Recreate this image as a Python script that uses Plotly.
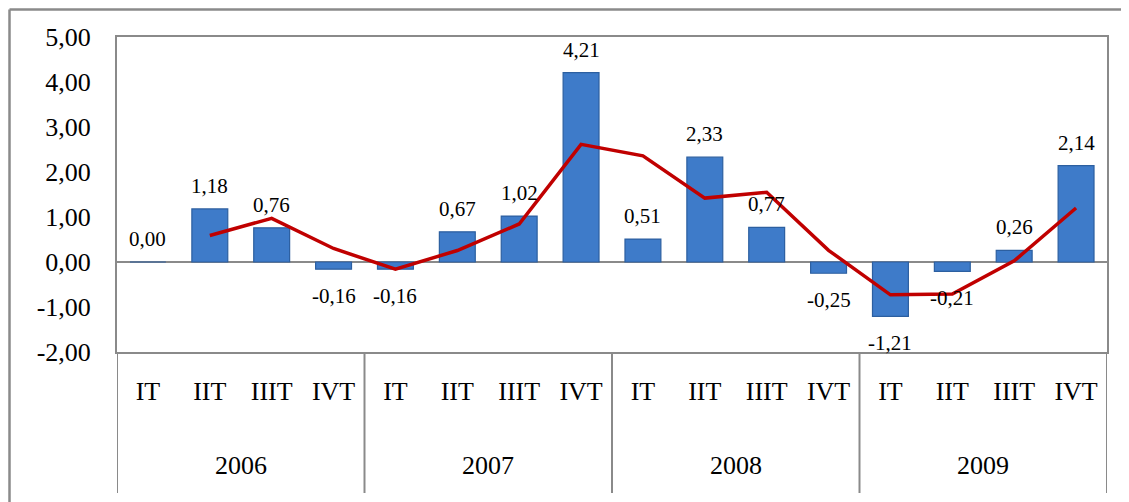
import plotly.graph_objects as go

years = ["2006", "2007", "2008", "2009"]
quarters = ["IT", "IIT", "IIIT", "IVT"]
bar_values = [0.00, 1.18, 0.76, -0.16,
              -0.16, 0.67, 1.02, 4.21,
              0.51, 2.33, 0.77, -0.25,
              -1.21, -0.21, 0.26, 2.14]
trend_values = [None, 0.59, 0.97, 0.30,
                -0.16, 0.255, 0.845, 2.615,
                2.36, 1.42, 1.55, 0.26,
                -0.73, -0.71, 0.025, 1.20]
y_ticks = [-2, -1, 0, 1, 2, 3, 4, 5]


def fmt(v):
    return f"{v:.2f}".replace(".", ",")


n = len(bar_values)
xs = list(range(n))
qlabels = [quarters[i % 4] for i in xs]

# page has an 8px body margin; compensate so the picture lands where the reference is
OFF = 8
W, H = 1129 - OFF, 502 - OFF
ML, MT = 117 - OFF, 37 - OFF
PW, PH = 990, 315
MR = W - ML - PW
MB = H - MT - PH
SERIF = "Liberation Serif, Times New Roman, serif"
GRAY = "#8a8a8a"

fig = go.Figure()
fig.add_trace(go.Bar(
    x=xs, y=bar_values, width=0.58,
    marker=dict(color="#3e7bc9", line=dict(color="#2c5fa0", width=1.2)),
    hoverinfo="skip", showlegend=False,
))
fig.add_trace(go.Scatter(
    x=xs, y=trend_values, mode="lines",
    line=dict(color="#c00000", width=3.5),
    hoverinfo="skip", showlegend=False,
))

# data labels
for i, v in enumerate(bar_values):
    fig.add_annotation(
        x=i, y=v, xref="x", yref="y",
        text=fmt(v),
        showarrow=False, yanchor="middle",
        yshift=23 if v >= 0 else -27,
        font=dict(family=SERIF, size=21, color="black"),
    )

# year labels and dividers
for k, yr in enumerate(years):
    fig.add_annotation(
        x=k * 4 + 1.5, y=-(465 - 352) / PH, xref="x", yref="paper",
        text=yr, showarrow=False, yanchor="middle",
        font=dict(family=SERIF, size=26, color="black"),
    )
ybot = -(493 - 352) / PH
for k in range(len(years) + 1):
    fig.add_shape(type="line", xref="x", yref="paper",
                  x0=k * 4 - 0.5, x1=k * 4 - 0.5, y0=0, y1=ybot,
                  line=dict(color=GRAY, width=2))

# outer frame (partially visible)
fx = -(ML - 1.5) / PW
fy = 1 + (MT - 1.5) / PH
fig.add_shape(type="line", xref="paper", yref="paper",
              x0=fx, x1=fx, y0=fy, y1=-(H - MT) / PH,
              line=dict(color=GRAY, width=2.5))
fig.add_shape(type="line", xref="paper", yref="paper",
              x0=fx, x1=(W - ML) / PW, y0=fy, y1=fy,
              line=dict(color=GRAY, width=2.5))

fig.update_layout(
    width=W, height=H,
    margin=dict(l=ML, r=MR, t=MT, b=MB),
    plot_bgcolor="white", paper_bgcolor="white",
    xaxis=dict(
        range=[-0.5, n - 0.5],
        tickmode="array", tickvals=xs, ticktext=qlabels,
        ticks="", showgrid=False, zeroline=False,
        showline=True, linecolor=GRAY, linewidth=2, mirror=True,
        tickfont=dict(family=SERIF, size=26, color="black"),
        ticklabelstandoff=15,
    ),
    yaxis=dict(
        range=[-2, 5],
        tickmode="array", tickvals=y_ticks, ticktext=[fmt(t) for t in y_ticks],
        ticks="", showgrid=False,
        zeroline=True, zerolinecolor=GRAY, zerolinewidth=2,
        showline=True, linecolor=GRAY, linewidth=2, mirror=True,
        tickfont=dict(family=SERIF, size=26, color="black"),
        ticklabelstandoff=19,
    ),
)

fig.write_html("out.html")
